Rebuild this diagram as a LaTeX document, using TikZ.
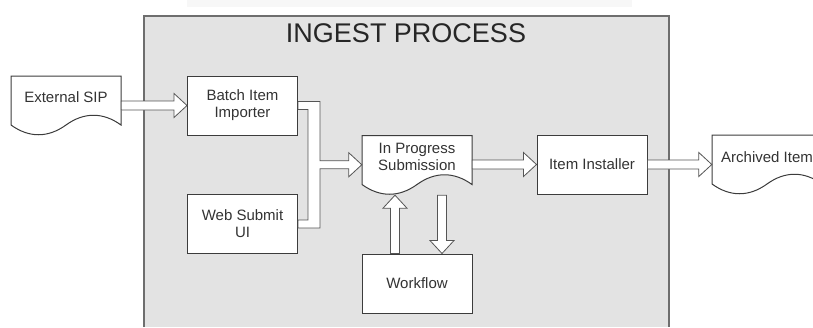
\documentclass[tikz,border=0pt]{standalone}
\usepackage{fontspec}
\setmainfont{Liberation Sans}
\usetikzlibrary{calc}

\definecolor{areagray}{HTML}{E3E3E3}
\definecolor{framegray}{HTML}{6E6E6E}
\definecolor{boxgray}{HTML}{3C3C3C}
\definecolor{linegray}{HTML}{555555}
\definecolor{textgray}{HTML}{333333}

\tikzset{
  box/.style={draw=boxgray, line width=1pt, fill=white, minimum width=110pt,
    minimum height=59pt, align=center, text=textgray,
    font=\fontsize{15}{17}\selectfont},
  doc/.style={minimum width=110pt, minimum height=49pt, align=center,
    text=textgray, font=\fontsize{15}{17}\selectfont},
  arrowline/.style={draw=linegray, line width=0.8pt, fill=white},
  blockarrow/.style={arrowline, to path={
    ($(\tikztotarget)!13pt!(\tikztostart)$) coordinate (bq)
    ($(\tikztostart)!4.5pt!90:(\tikztotarget)$)
    -- ($(bq)!4.5pt!90:(\tikztotarget)$)
    -- ($(bq)!12pt!90:(\tikztotarget)$)
    -- (\tikztotarget)
    -- ($(bq)!12pt!-90:(\tikztotarget)$)
    -- ($(bq)!4.5pt!-90:(\tikztotarget)$)
    -- ($(\tikztostart)!4.5pt!-90:(\tikztotarget)$) -- cycle}}
}

% paper with a wavy lower edge, drawn round a centre point
\newcommand{\docback}[1]{%
  \draw[boxgray, line width=1pt, fill=white] #1 ++(-55,-24.5) -- ++(110,0) -- ++(0,49)
    .. controls +(-18,-13) and +(18,-13) .. ++(-55,0)
    .. controls +(-18,13) and +(18,13) .. ++(-55,0) -- cycle;}

\begin{document}
\begin{tikzpicture}[x=1pt, y=-1pt]
  \useasboundingbox (0,0) rectangle (813,327);

  % Ingest area
  \fill[black!3] (187,0) rectangle (632,7);
  \fill[areagray] (144,16) rectangle (669,327);
  \draw[framegray, line width=1.2pt] (144,327) |- (669,16) -- (669,327);
  \node[font=\fontsize{27}{30}\selectfont, text=black!85] (title) at (406,33) {INGEST PROCESS};

  % Documents (text sits a little above the middle of the paper)
  \docback{(66,100.5)}
  \node[doc] (sip) at (66,97) {External SIP};
  \docback{(417,160)}
  \node[doc] (ips) at (417,156.5) {In Progress\\Submission};
  \docback{(767,159.5)}
  \node[doc] (arch) at (767,157) {Archived Item};

  % Boxes
  \node[box] (batch) at (242.5,105.5) {Batch Item\\Importer};
  \node[box] (web) at (242.5,224) {Web Submit\\UI};
  \node[box] (inst) at (592,164.5) {Item Installer};
  \node[box] (wf) at (417,283.5) {Workflow};

  % Arrows
  \coordinate (upfoot) at ($(wf.north)+(-22,0)$);
  \coordinate (uptip) at ($(ips.south)+(-22,14)$);
  \coordinate (downfoot) at ($(ips.south)+(25,14)$);
  \coordinate (downtip) at ($(wf.north)+(25,0)$);
  \draw[blockarrow] (sip.east |- batch.west) to (batch.west);
  \draw[blockarrow] (ips.east |- inst.west) to (inst.west);
  \draw[blockarrow] (inst.east) to (inst.east -| arch.west);
  \draw[blockarrow] (upfoot) to (uptip);
  \draw[blockarrow] (downfoot) to (downtip);

  % Fork into the submission
  \coordinate (fork) at ($(batch.east)!.5!(web.east)+(16,0)$);
  \draw[arrowline] ($(batch.east)+(0,-4)$) -| ($(fork)+(6,-4)$)
    -- ($(ips.west |- fork)+(-13,-4)$) -- ++(0,-8) -- (ips.west |- fork)
    -- ++(-13,12) -- ++(0,-8) -- ($(fork)+(6,4)$)
    |- ($(web.east)+(0,4)$) -- ($(web.east)+(0,-4)$)
    -| ($(batch.east)+(10,4)$) -- ($(batch.east)+(0,4)$) -- cycle;
\end{tikzpicture}
\end{document}
